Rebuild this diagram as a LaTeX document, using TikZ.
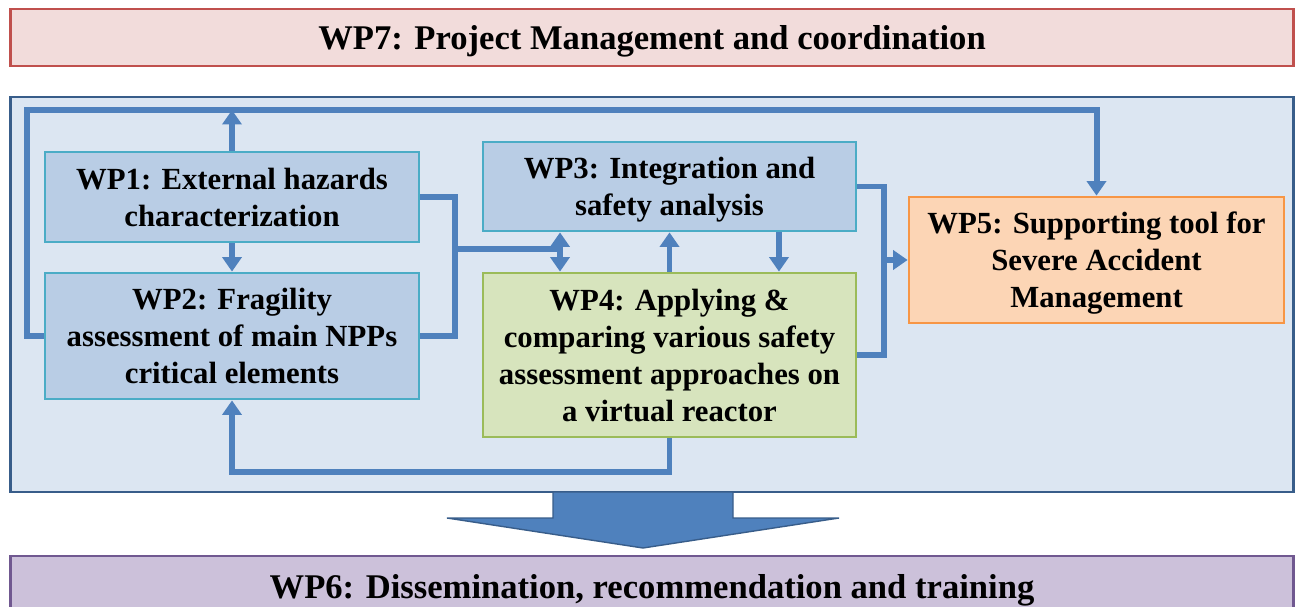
\documentclass[tikz,border=0pt]{standalone}
\usepackage{fontspec}
\setmainfont{Liberation Serif}
\usetikzlibrary{arrows.meta}

\begin{document}
\begin{tikzpicture}[x=0.02cm, y=-0.02cm,
    wpbox/.style={draw=wpedge, fill=wpfill, line width=1.6pt, align=center, inner sep=0pt, text depth=0pt,
                  font=\fontsize{17.5}{21}\selectfont\bfseries},
    barbox/.style={line width=1.6pt, align=center, inner sep=0pt, text depth=0pt, minimum width=25.68cm,
                   font=\fontsize{19.7}{22}\selectfont\bfseries},
    flow/.style={draw=flowblue, line width=3.4pt},
    flowarr/.style={flow, -{Triangle[width=0.38cm,length=0.29cm]}}]
            \xdefinecolor{flowblue}{RGB}{79, 129, 189}
            \xdefinecolor{wpedge}{RGB}{75, 172, 198}
            \xdefinecolor{wpfill}{RGB}{185, 205, 229}
            \xdefinecolor{outeredge}{RGB}{56, 93, 138}
            \xdefinecolor{outerfill}{RGB}{220, 230, 242}
            \xdefinecolor{wp4edge}{RGB}{155, 187, 89}
            \xdefinecolor{wp4fill}{RGB}{215, 228, 189}
            \xdefinecolor{wp5edge}{RGB}{247, 150, 70}
            \xdefinecolor{wp5fill}{RGB}{252, 213, 181}
            \xdefinecolor{wp7edge}{RGB}{192, 80, 77}
            \xdefinecolor{wp7fill}{RGB}{242, 220, 219}
            \xdefinecolor{wp6edge}{RGB}{112, 88, 144}
            \xdefinecolor{wp6fill}{RGB}{204, 193, 218}
            \useasboundingbox (0,0) rectangle (1300,607);

            % Management bar on top
            \node[barbox, draw=wp7edge, fill=wp7fill, minimum height=1.14cm] (WP7) at (652, 37.5) {WP7: Project Management and coordination};

            % Big frame round the technical work packages
            \node[draw=outeredge, fill=outerfill, line width=1.6pt, minimum width=25.68cm, minimum height=7.9cm] (Frame) at (652, 294.5) {};

            % Work package boxes
            \node[wpbox, minimum width=7.48cm, minimum height=1.8cm] (WP1) at (232, 197) {WP1: External hazards\\characterization};
            \node[wpbox, minimum width=7.48cm, minimum height=2.52cm] (WP2) at (232, 336) {WP2: Fragility\\assessment of main NPPs\\critical elements};
            \node[wpbox, minimum width=7.46cm, minimum height=1.78cm] (WP3) at (669.5, 186.5) {WP3: Integration and\\safety analysis};
            \node[wpbox, draw=wp4edge, fill=wp4fill, minimum width=7.46cm, minimum height=3.28cm] (WP4) at (669.5, 355) {WP4: Applying \&\\comparing various safety\\assessment approaches on\\a virtual reactor};
            \node[wpbox, draw=wp5edge, fill=wp5fill, minimum width=7.5cm, minimum height=2.52cm] (WP5) at (1096.5, 260) {WP5: Supporting tool for\\Severe Accident\\Management};

            % Loop from WP2 over the top to WP5
            \coordinate (LoopL) at (27, 110);
            \draw[flowarr] (WP2.west) -| (LoopL) -| (WP5.north);
            \draw[flowarr] (WP1.north) -- (WP1.north |- LoopL);
            \draw[flowarr] (WP1) -- (WP2);

            % Left bracket and split to WP3 / WP4
            \coordinate (JoinL) at (455, 249);
            \coordinate (Split) at (560, 249);
            \draw[flow] (WP1.east) -| (JoinL) |- (WP2.east);
            \draw[flow] (JoinL) -- (Split);
            \draw[flowarr] (Split) -- (Split |- WP3.south);
            \draw[flowarr] (Split) -- (Split |- WP4.north);

            % Exchange between WP3 and WP4
            \draw[flowarr] (WP4.north) -- (WP3.south);
            \draw[flowarr] ([xshift=2.19cm]WP3.south) -- ([xshift=2.19cm]WP4.north);

            % Right bracket into WP5
            \coordinate (JoinR) at (884, 260);
            \draw[flow] (WP3.east) -| (JoinR) |- (WP4.east);
            \draw[flowarr] (JoinR) -- (WP5.west);

            % Feedback from WP4 back to WP2
            \coordinate (LoopB) at (669.5, 472);
            \draw[flowarr] (WP4.south) -- (LoopB) -| (WP2.south);

            % Block arrow down to dissemination
            \draw[draw=outeredge, fill=flowblue, line width=0.8pt] (553, 492) -- (733, 492) -- (733, 518) -- (839, 518) -- (643, 548) -- (447, 518) -- (553, 518) -- cycle;

            % Dissemination bar at the bottom
            \node[barbox, draw=wp6edge, fill=wp6fill, minimum height=1.2cm] (WP6) at (652, 586) {WP6: Dissemination, recommendation and training};
\end{tikzpicture}
\end{document}
